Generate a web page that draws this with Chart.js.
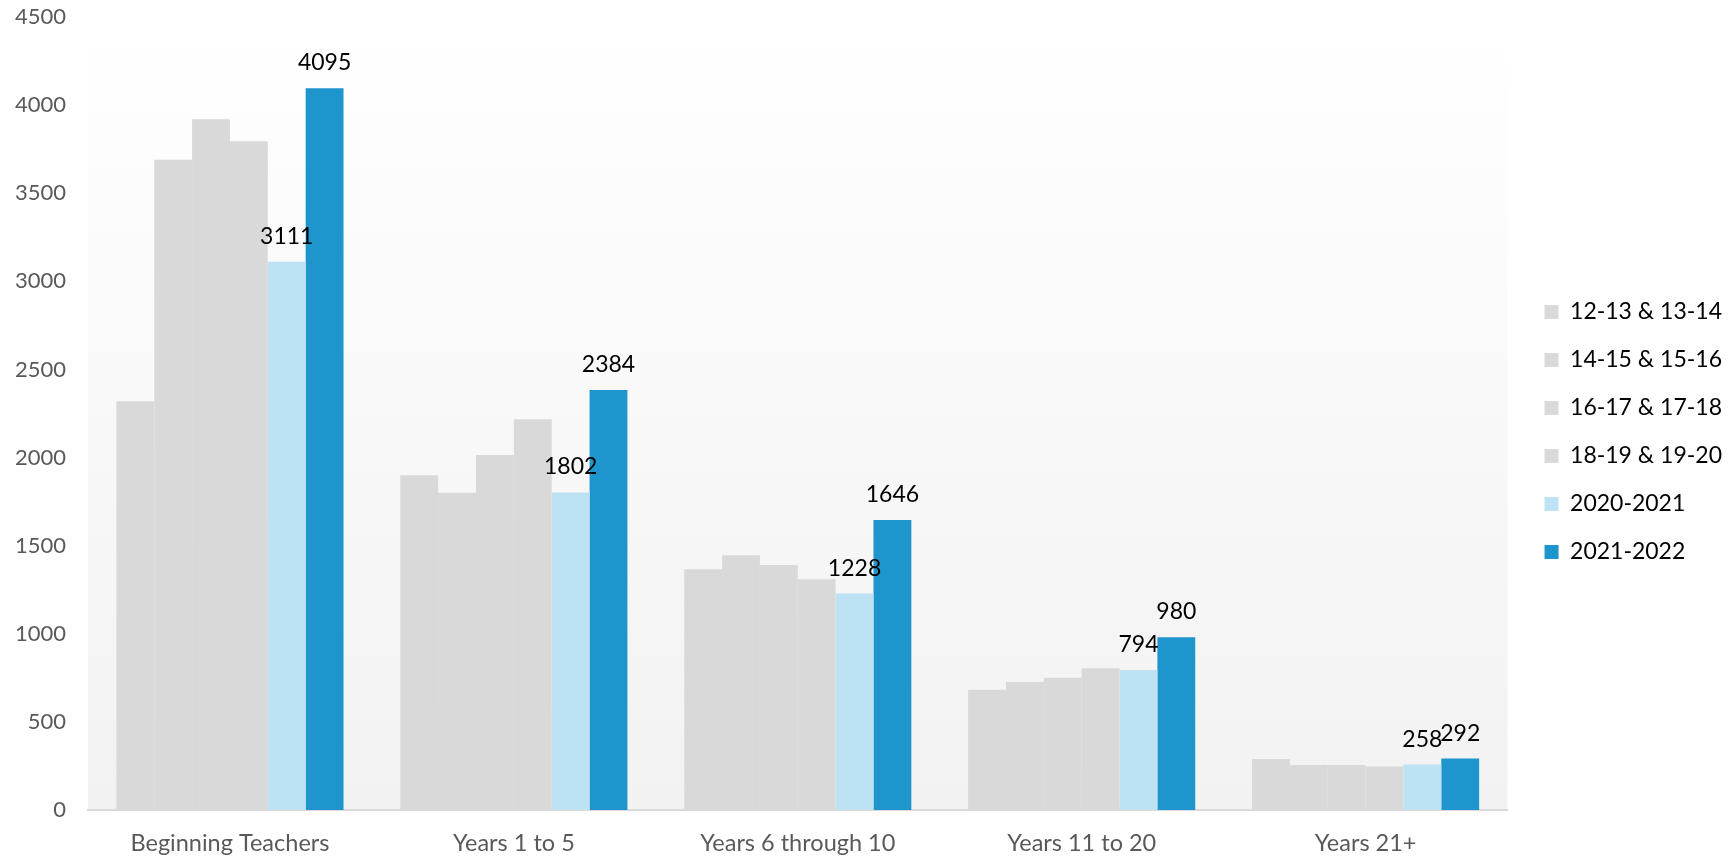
<!DOCTYPE html>
<html>
<head>
<meta charset="utf-8">
<script src="https://cdn.jsdelivr.net/npm/chart.js@4"></script>
<style>
  html, body { margin: 0; padding: 0; background: #fff; }
  #wrap { width: 1732px; height: 858px; }
</style>
</head>
<body>
<div id="wrap"><canvas id="chart"></canvas></div>
<script>
const categories = ['Beginning Teachers', 'Years 1 to 5', 'Years 6 through 10', 'Years 11 to 20', 'Years 21+'];
const seriesNames = ['12-13 & 13-14', '14-15 & 15-16', '16-17 & 17-18', '18-19 & 19-20', '2020-2021', '2021-2022'];
const y1213 = [2320, 1900, 1366, 682, 290];
const y1415 = [3690, 1800, 1446, 726, 255];
const y1617 = [3920, 2015, 1390, 750, 255];
const y1819 = [3795, 2218, 1310, 805, 247];
const y2021 = [3111, 1802, 1228, 794, 258];
const y2122 = [4095, 2384, 1646, 980, 292];
const yTicks = [0, 500, 1000, 1500, 2000, 2500, 3000, 3500, 4000, 4500];

const grey = '#d9d9d9';
const light = '#bde2f4';
const blue = '#1f95cd';
const fontFamily = 'Lato, "Noto Sans", sans-serif';
const legendExtra = 12;

// plot area background: white at top fading to light grey
const bgPlugin = {
    id: 'bg',
    beforeDraw(chart) {
        const { ctx, chartArea: a } = chart;
        const g = ctx.createLinearGradient(0, a.top, 0, a.bottom);
        g.addColorStop(0, '#ffffff');
        g.addColorStop(1, '#f2f2f2');
        ctx.save();
        ctx.fillStyle = g;
        ctx.fillRect(a.left, a.top, a.right - a.left, a.bottom - a.top);
        ctx.restore();
    }
};

// value labels on the last two series only
const labelPlugin = {
    id: 'vals',
    afterDatasetsDraw(chart) {
        const { ctx } = chart;
        ctx.save();
        ctx.font = '23px ' + fontFamily;
        ctx.fillStyle = '#000';
        ctx.textAlign = 'center';
        ctx.textBaseline = 'alphabetic';
        [4, 5].forEach(i => {
            const meta = chart.getDatasetMeta(i);
            meta.data.forEach((bar, j) => {
                ctx.fillText(chart.data.datasets[i].data[j], bar.x, bar.y - 18);
            });
        });
        ctx.restore();
    }
};

// a bit more room between plot and legend
const legendGap = {
    id: 'legendGap',
    afterInit(chart) {
        const lg = chart.legend;
        const fit = lg.fit;
        lg.fit = function () { fit.call(this); this.width += legendExtra; };
    },
    afterLayout(chart) {
        chart.legend.left += legendExtra;
        chart.legend.top += 3;
        chart.legend.bottom += 3;
    }
};

const colors = [grey, grey, grey, grey, light, blue];
const values = [y1213, y1415, y1617, y1819, y2021, y2122];

new Chart(document.getElementById('chart'), {
    type: 'bar',
    data: {
        labels: categories,
        datasets: values.map((v, i) => ({
            label: seriesNames[i],
            data: v,
            backgroundColor: colors[i],
            borderWidth: 0,
            categoryPercentage: 0.8,
            barPercentage: 1.0
        }))
    },
    options: {
        responsive: true,
        maintainAspectRatio: false,
        animation: false,
        layout: { padding: 0 },
        plugins: {
            legend: {
                position: 'right',
                labels: {
                    boxWidth: 14,
                    boxHeight: 14,
                    padding: 25,
                    color: '#000',
                    font: { family: fontFamily, size: 23 }
                }
            },
            tooltip: { enabled: false }
        },
        scales: {
            x: {
                grid: { display: false, drawTicks: false },
                border: { color: '#d9d9d9', width: 2 },
                afterFit: axis => { axis.height = 48; },
                ticks: {
                    color: '#595959',
                    padding: 19,
                    font: { family: fontFamily, size: 23.5 }
                }
            },
            y: {
                min: 0,
                max: 4500,
                grid: { display: false, drawTicks: false },
                border: { display: false },
                afterBuildTicks: axis => { axis.ticks = yTicks.map(v => ({ value: v })); },
                afterFit: axis => {
                    axis.width = 88;
                    axis.paddingTop = 17;
                    axis.paddingBottom = 0;
                },
                ticks: {
                    color: '#595959',
                    padding: 22,
                    callback: v => String(v),
                    font: { family: fontFamily, size: 22 }
                }
            }
        }
    },
    plugins: [bgPlugin, labelPlugin, legendGap]
});
</script>
</body>
</html>
